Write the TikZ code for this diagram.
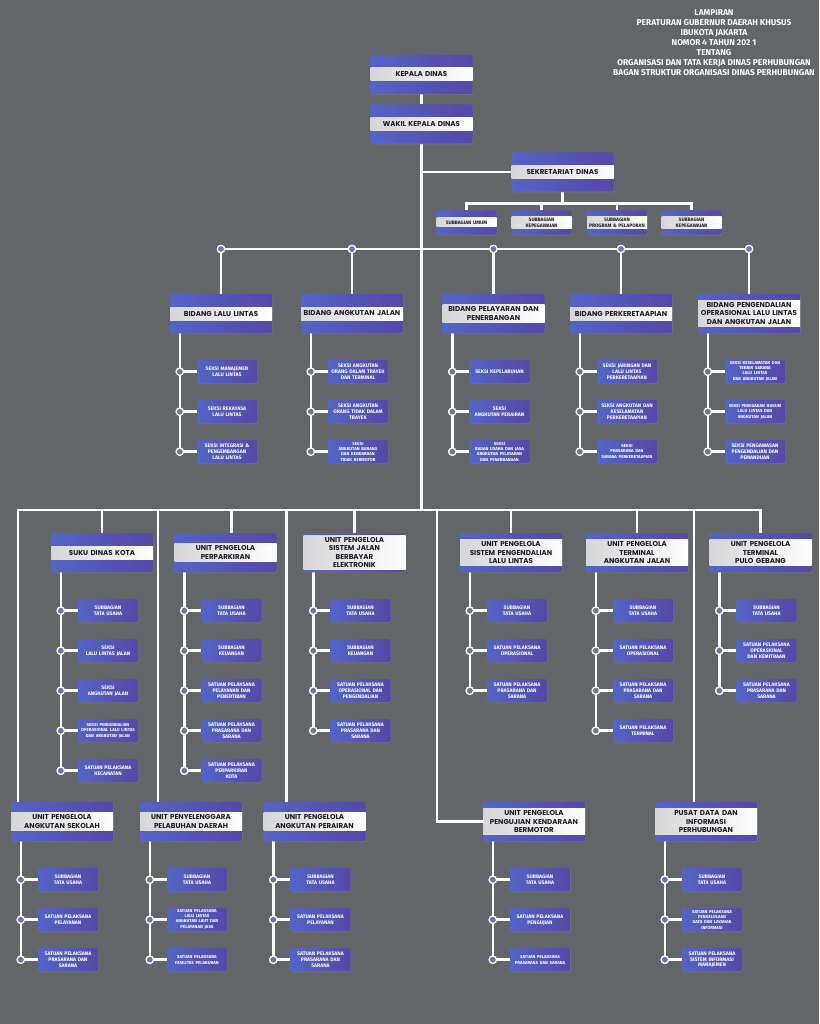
\documentclass[tikz,border=0pt]{standalone}
\usepackage{fontspec}
\newfontfamily\headfont{Poppins}
\newfontfamily\subfont{Fira Sans}
\usetikzlibrary{calc,backgrounds,shadows}

\definecolor{bgcol}{RGB}{99,102,105}
\definecolor{boxblue}{RGB}{82,100,198}
\definecolor{boxpurple}{RGB}{86,72,168}
\definecolor{bandgray}{RGB}{214,214,216}
\definecolor{titletext}{RGB}{28,28,36}
\definecolor{dotfill}{RGB}{122,110,170}

\newcommand{\sm}{\fontsize{4.3}{5}\selectfont}

% box with a light title band across it
\newcommand{\unitbox}[5][head]{%
  \node[#1box] (#2) at (#3,#4) {};
  \node[#1band] (#2-t) at (#2.center) {#5};
}

% children hanging on a spine under the parent
\newcommand{\subs}[2]{%
  \coordinate (#1-sp) at ([xshift=10pt]#1.south west);
  \foreach \t [count=\i] in {#2}
    \node[subbox, anchor=west] (#1-\i) at ($(#1.south west)+(27,{38.5+40*(\i-1)})$) {\t};
  \begin{pgfonlayer}{background}
    \foreach \t [count=\i] in {#2}
      \draw[link] (#1-sp) |- (#1-\i.west);
  \end{pgfonlayer}
  \foreach \t [count=\i] in {#2}
    \node[dot] (#1-d\i) at (#1-sp |- #1-\i.west) {};
}

\begin{document}
\begin{tikzpicture}[x=1pt, y=-1pt,
    link/.style={white, line width=2.6pt},
    headbox/.style={rectangle, rounded corners=2pt, minimum width=102pt, minimum height=39pt,
      left color=boxblue, right color=boxpurple,
      drop shadow={shadow xshift=0.8pt, shadow yshift=-1.2pt, opacity=0.35}},
    headband/.style={text width=100pt, inner xsep=1pt, inner ysep=2pt, minimum height=13pt, align=center,
      left color=bandgray, right color=white, text=titletext,
      font=\headfont\bfseries\fontsize{7.1}{8.3}\selectfont},
    secbox/.style={headbox, minimum width=60pt, minimum height=24pt},
    secband/.style={headband, text width=59pt, inner xsep=0.5pt, inner ysep=1pt, minimum height=9pt,
      font=\subfont\bfseries\fontsize{4.9}{5.8}\selectfont},
    subbox/.style={rectangle, rounded corners=1.5pt, minimum width=60pt, minimum height=23pt,
      text width=59pt, inner xsep=0.5pt, inner ysep=0pt, align=center,
      left color=boxblue, right color=boxpurple, text=white,
      font=\subfont\bfseries\fontsize{5.1}{5.9}\selectfont,
      drop shadow={shadow xshift=0.8pt, shadow yshift=-1.2pt, opacity=0.35}},
    dot/.style={circle, draw=white, line width=1.3pt, fill=dotfill, minimum size=7.5pt, inner sep=0pt},
    hdr/.style={align=center, text=white, inner sep=0pt,
      font=\subfont\bfseries\fontsize{8.4}{9.9}\selectfont}]

  \useasboundingbox (0,0) rectangle (819,1024);
  \begin{pgfonlayer}{background}
    \fill[bgcol] (0,0) rectangle (819,1024);
  \end{pgfonlayer}

  \node[hdr] (lampiran) at (714,42.5) {LAMPIRAN\\PERATURAN GUBERNUR DAERAH KHUSUS\\IBUKOTA JAKARTA\\NOMOR 4 TAHUN 202 1\\TENTANG\\ORGANISASI DAN TATA KERJA DINAS PERHUBUNGAN\\BAGAN STRUKTUR ORGANISASI DINAS PERHUBUNGAN};

  % pimpinan dan sekretariat
  \unitbox{kd}{421.5}{74.5}{KEPALA DINAS}
  \unitbox{wk}{421.5}{124}{WAKIL KEPALA DINAS}
  \unitbox{sek}{562.5}{172}{SEKRETARIAT DINAS}
  \unitbox[sec]{sa}{466.5}{222.5}{SUBBAGIAN UMUM}
  \unitbox[sec]{sb}{541.5}{222.5}{SUBBAGIAN\\KEPEGAWAIAN}
  \unitbox[sec]{sc}{617}{222.5}{SUBBAGIAN\\PROGRAM \& PELAPORAN}
  \unitbox[sec]{sd}{691.5}{222.5}{SUBBAGIAN\\KEPEGAWAIAN}

  % bidang
  \unitbox{bll}{221}{313.5}{BIDANG LALU LINTAS}
  \unitbox{baj}{352}{313.5}{BIDANG ANGKUTAN JALAN}
  \unitbox{bpp}{493.5}{313.5}{BIDANG PELAYARAN DAN\\PENERBANGAN}
  \unitbox{bka}{621}{313.5}{BIDANG PERKERETAAPIAN}
  \unitbox{bpo}{749}{313.5}{BIDANG PENGENDALIAN\\OPERASIONAL LALU LINTAS\\DAN ANGKUTAN JALAN}

  % suku dinas dan unit
  \unitbox{suku}{102}{552.5}{SUKU DINAS KOTA}
  \unitbox{parkir}{225.5}{552.5}{UNIT PENGELOLA\\PERPARKIRAN}
  \unitbox{erp}{354.5}{552.5}{UNIT PENGELOLA\\SISTEM JALAN\\BERBAYAR\\ELEKTRONIK}
  \unitbox{atcs}{511}{552.5}{UNIT PENGELOLA\\SISTEM PENGENDALIAN\\LALU LINTAS}
  \unitbox{terminal}{637}{552.5}{UNIT PENGELOLA\\TERMINAL\\ANGKUTAN JALAN}
  \unitbox{pulo}{760.5}{552.5}{UNIT PENGELOLA\\TERMINAL\\PULO GEBANG}
  \unitbox{sekolah}{62}{821.5}{UNIT PENGELOLA\\ANGKUTAN SEKOLAH}
  \unitbox{pelabuhan}{191}{821.5}{UNIT PENYELENGGARA\\PELABUHAN DAERAH}
  \unitbox{perairan}{314.5}{821.5}{UNIT PENGELOLA\\ANGKUTAN PERAIRAN}
  \unitbox{uji}{534}{821.5}{UNIT PENGELOLA\\PENGUJIAN KENDARAAN\\BERMOTOR}
  \unitbox{pusdatin}{706}{821.5}{PUSAT DATA DAN\\INFORMASI\\PERHUBUNGAN}

  % garis komando
  \coordinate (tsek) at (wk.south |- sek.west);
  \coordinate (tbid) at (421.5,249);
  \coordinate (tbot) at (421.5,510);
  \coordinate (sekbar) at ([yshift=-12pt]sek.south);
  \coordinate (ujiturn) at ([xshift=-46pt]uji.west);
  \begin{pgfonlayer}{background}
    \draw[link] (kd) -- (wk);
    \draw[link] (wk) -- (tbot);
    \draw[link] (tsek) -- (sek);
    \foreach \s in {sa,sb,sc,sd}
      \draw[link] (sek.south) -- (sekbar) -| (\s.north);
    \foreach \b in {bll,baj,bpp,bka,bpo}
      \draw[link] (tbid) -| (\b.north);
    \foreach \u in {suku,erp,atcs,terminal,pulo}
      \draw[link] (tbot) -| (\u.north);
    \draw[link] (tbot) -| ([xshift=6pt]parkir.north);
    \draw[link] (tbot) -| ([xshift=7pt]sekolah.north west);       % ke baris bawah
    \draw[link] (tbot) -| ([xshift=18pt]pelabuhan.north west);
    \draw[link] (tbot) -| ([xshift=23pt]perairan.north west);
    \draw[link] (tbot) -| (ujiturn) -- (uji.west);
    \draw[link] (tbot) -| ([xshift=-12pt]pusdatin.north);
  \end{pgfonlayer}
  \foreach \b in {bll,baj,bpp,bka,bpo}
    \node[dot] (\b-top) at (\b.north |- tbid) {};

  % seksi bidang
  \subs{bll}{{SEKSI MANAJEMEN\\LALU LINTAS}, {SEKSI REKAYASA\\LALU LINTAS}, {SEKSI INTEGRASI \&\\PENGEMBANGAN\\LALU LINTAS}}
  \subs{baj}{{SEKSI ANGKUTAN\\ORANG DALAM TRAYEK\\DAN TERMINAL}, {SEKSI ANGKUTAN\\ORANG TIDAK DALAM\\TRAYEK}, {\sm SEKSI\\ANGKUTAN BARANG\\DAN KENDARAAN\\TIDAK BERMOTOR}}
  \subs{bpp}{{SEKSI KEPELABUHAN}, {SEKSI\\ANGKUTAN PERAIRAN}, {\sm SEKSI\\BADAN USAHA DAN JASA\\ANGKUTAN PELAYARAN\\DAN PENERBANGAN}}
  \subs{bka}{{SEKSI JARINGAN DAN\\LALU LINTAS\\PERKERETAAPIAN}, {SEKSI ANGKUTAN DAN\\KESELAMATAN\\PERKERETAAPIAN}, {\sm SEKSI\\PRASARANA DAN\\SARANA PERKERETAAPIAN}}
  \subs{bpo}{{\sm SEKSI KESELAMATAN DAN\\TEKNIK SARANA\\LALU LINTAS\\DAN ANGKUTAN JALAN}, {\sm SEKSI PENEGAKAN HUKUM\\LALU LINTAS DAN\\ANGKUTAN JALAN}, {SEKSI PENGAWASAN\\PENGENDALIAN DAN\\PEMANDUAN}}

  % subbagian dan satuan pelaksana
  \subs{suku}{{SUBBAGIAN\\TATA USAHA}, {SEKSI\\LALU LINTAS JALAN}, {SEKSI\\ANGKUTAN JALAN}, {\sm SEKSI PENGENDALIAN\\OPERASIONAL LALU LINTAS\\DAN ANGKUTAN JALAN}, {SATUAN PELAKSANA\\KECAMATAN}}
  \subs{parkir}{{SUBBAGIAN\\TATA USAHA}, {SUBBAGIAN\\KEUANGAN}, {SATUAN PELAKSANA\\PELAYANAN DAN\\PENERTIBAN}, {SATUAN PELAKSANA\\PRASARANA DAN\\SARANA}, {SATUAN PELAKSANA\\PERPARKIRAN\\KOTA}}
  \subs{erp}{{SUBBAGIAN\\TATA USAHA}, {SUBBAGIAN\\KEUANGAN}, {SATUAN PELAKSANA\\OPERASIONAL DAN\\PENGENDALIAN}, {SATUAN PELAKSANA\\PRASARANA DAN\\SARANA}}
  \subs{atcs}{{SUBBAGIAN\\TATA USAHA}, {SATUAN PELAKSANA\\OPERASIONAL}, {SATUAN PELAKSANA\\PRASARANA DAN\\SARANA}}
  \subs{terminal}{{SUBBAGIAN\\TATA USAHA}, {SATUAN PELAKSANA\\OPERASIONAL}, {SATUAN PELAKSANA\\PRASARANA DAN\\SARANA}, {SATUAN PELAKSANA\\TERMINAL}}
  \subs{pulo}{{SUBBAGIAN\\TATA USAHA}, {SATUAN PELAKSANA\\OPERASIONAL\\DAN KEMITRAAN}, {SATUAN PELAKSANA\\PRASARANA DAN\\SARANA}}
  \subs{sekolah}{{SUBBAGIAN\\TATA USAHA}, {SATUAN PELAKSANA\\PELAYANAN}, {SATUAN PELAKSANA\\PRASARANA DAN\\SARANA}}
  \subs{pelabuhan}{{SUBBAGIAN\\TATA USAHA}, {\sm SATUAN PELAKSANA\\LALU LINTAS\\ANGKUTAN LAUT DAN\\PELAYANAN JASA}, {\sm SATUAN PELAKSANA\\FASILITAS PELABUHAN}}
  \subs{perairan}{{SUBBAGIAN\\TATA USAHA}, {SATUAN PELAKSANA\\PELAYANAN}, {SATUAN PELAKSANA\\PRASARANA DAN\\SARANA}}
  \subs{uji}{{SUBBAGIAN\\TATA USAHA}, {SATUAN PELAKSANA\\PENGUJIAN}, {\sm SATUAN PELAKSANA\\PRASARANA DAN SARANA}}
  \subs{pusdatin}{{SUBBAGIAN\\TATA USAHA}, {\sm SATUAN PELAKSANA\\PENGELOLAAN\\DATA DAN LAYANAN\\INFORMASI}, {SATUAN PELAKSANA\\SISTEM INFORMASI\\MANAJEMEN}}
\end{tikzpicture}
\end{document}
